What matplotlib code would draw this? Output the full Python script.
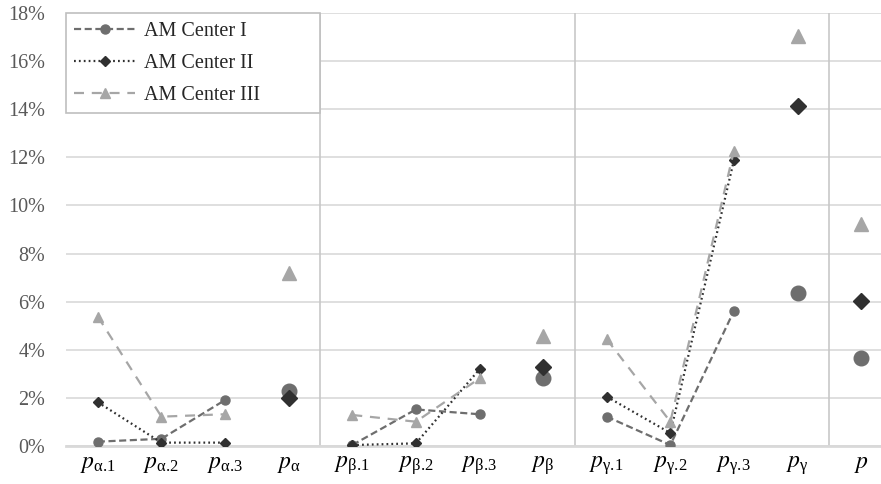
import numpy as np
import matplotlib.pyplot as plt
from matplotlib.ticker import FuncFormatter

plt.rcParams['font.family'] = ['Liberation Serif', 'DejaVu Serif']
plt.rcParams['mathtext.fontset'] = 'stix'

# Data (percent)
categories = ['α.1', 'α.2', 'α.3', 'α', 'β.1', 'β.2', 'β.3', 'β',
              'γ.1', 'γ.2', 'γ.3', 'γ', '']
center_1 = [0.18, 0.30, 1.91, 2.30, 0.04, 1.52, 1.32, 2.81, 1.22, 0.04, 5.62, 6.36, 3.65]
center_2 = [1.82, 0.14, 0.14, 2.01, 0.04, 0.11, 3.19, 3.30, 2.05, 0.54, 11.89, 14.13, 6.04]
center_3 = [5.38, 1.22, 1.32, 7.18, 1.29, 1.01, 2.81, 4.57, 4.44, 1.01, 12.28, 17.04, 9.23]
series_names = ['AM Center I', 'AM Center II', 'AM Center III']

# indices of the aggregated values (drawn as larger standalone markers)
summary_idx = [3, 7, 11, 12]
groups = [[0, 1, 2], [4, 5, 6], [8, 9, 10]]

styles = [
    dict(color='#6e6e6e', marker='o', ls=(0, (3.2, 1.6)), ms=6.5, big=10.5),
    dict(color='#303030', marker='D', ls=(0, (0.8, 1.4)), ms=5, big=8.5),
    dict(color='#a6a6a6', marker='^', ls=(0, (4.5, 3.5)), ms=6.5, big=10),
]

fig = plt.figure(figsize=(8.81, 4.84), dpi=100)
ax = fig.add_axes([66 / 881, 1 - 446 / 484, 827 / 881, 433 / 484])

x = np.arange(len(categories))
for vals, name, st in zip([center_1, center_2, center_3], series_names, styles):
    vals = np.array(vals)
    for k, g in enumerate(groups):
        ax.plot(x[g], vals[g], color=st['color'], ls=st['ls'], lw=1.6,
                marker=st['marker'], ms=st['ms'], zorder=3,
                label=name if k == 0 else None)
    ax.plot(x[summary_idx], vals[summary_idx], ls='none', color=st['color'],
            marker=st['marker'], ms=st['big'], zorder=3)

for xv in [3.5, 7.5, 11.5]:
    ax.axvline(xv, color='#c8c8c8', lw=1.2, zorder=1)

ax.set_xlim(-0.5, 12.5)
ax.set_ylim(0, 18)
ax.set_yticks(np.arange(0, 19, 2))
ax.yaxis.set_major_formatter(FuncFormatter(lambda v, p: f'{v:.0f}%'))
ax.grid(axis='y', color='#d9d9d9', lw=1.2, zorder=0)
ax.set_axisbelow(True)

xlabels = [r'$p_{\mathregular{%s}}$' % c.replace('.', r'.\!') if c else r'$p$'
           for c in categories]
ax.set_xticks(x)
ax.set_xticklabels(xlabels, fontsize=17)
ax.tick_params(axis='x', length=0, pad=6)
ax.tick_params(axis='y', length=0, pad=15, labelsize=14.5, labelcolor='#595959')

for s in ['top', 'right', 'left']:
    ax.spines[s].set_visible(False)
ax.spines['bottom'].set_color('#d9d9d9')
ax.spines['bottom'].set_linewidth(2)

leg = ax.legend(loc='upper left', bbox_to_anchor=(0, 0.78, 3.99 / 13, 0.22),
                mode='expand', borderaxespad=0, fancybox=False,
                edgecolor='#bfbfbf', framealpha=1, fontsize=14.5,
                handlelength=3.0, handletextpad=0.45, numpoints=1,
                labelspacing=0.65, borderpad=0.42)
leg.get_frame().set_linewidth(1.2)
for t in leg.get_texts():
    t.set_color('#262626')

fig.savefig('out.png', dpi=100)
